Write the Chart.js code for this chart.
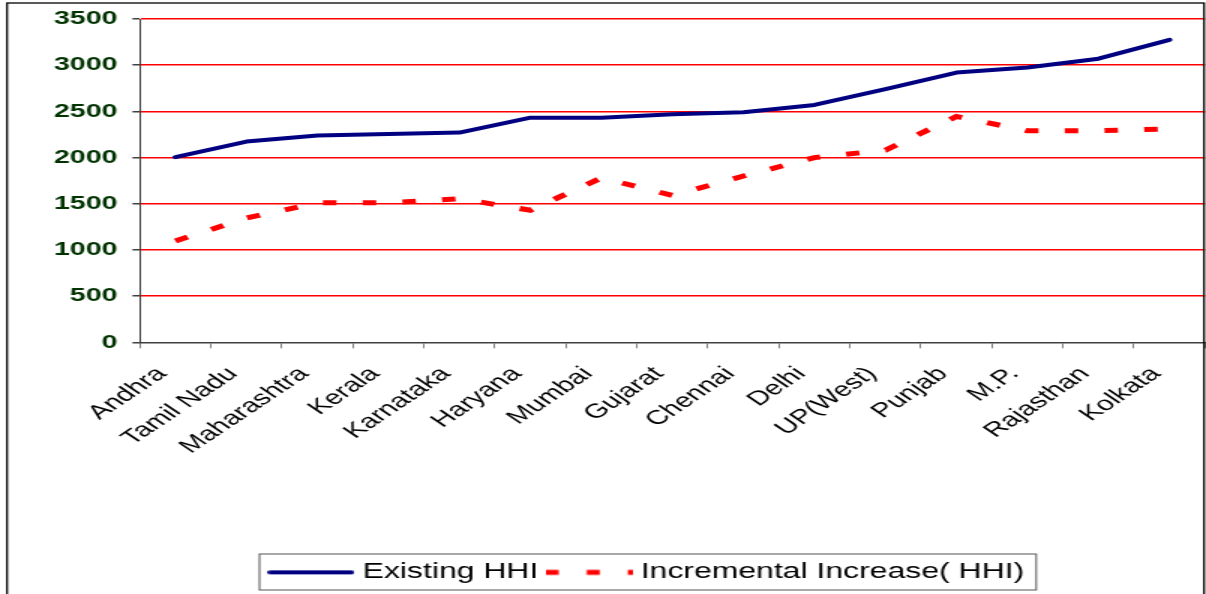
<!DOCTYPE html>
<html lang="en">
<head>
<meta charset="UTF-8">
<title>Existing HHI vs Incremental Increase</title>
<script src="https://cdn.jsdelivr.net/npm/chart.js"></script>
<style>
    html, body { margin: 0; padding: 0; background: #fff; overflow: hidden; }
</style>
</head>
<body>
<!-- the original picture is stretched sideways: draw narrow, widen with inline css -->
<canvas id="hhiChart" width="804" height="594" style="width:1206px;height:594px;display:block"></canvas>

<script>
    const regions = ['Andhra', 'Tamil Nadu', 'Maharashtra', 'Kerala', 'Karnataka', 'Haryana', 'Mumbai',
        'Gujarat', 'Chennai', 'Delhi', 'UP(West)', 'Punjab', 'M.P.', 'Rajasthan', 'Kolkata'];
    const existingHHI = [2005, 2173, 2238, 2256, 2270, 2432, 2432, 2470, 2490, 2570, 2740, 2920, 2975, 3070, 3275];
    const incrementalHHI = [1097, 1345, 1510, 1510, 1555, 1430, 1780, 1590, 1800, 2000, 2080, 2445, 2290, 2290, 2310];

    Chart.defaults.font.family = "'Liberation Sans', Arial, sans-serif";

    // legend symbols: chart.js drops the dash for point-style legends, so draw them by hand
    function legendSymbol(color, width, dash, cap) {
        const c = document.createElement('canvas');
        c.width = 58;
        c.height = 10;
        const g = c.getContext('2d');
        g.strokeStyle = color;
        g.lineWidth = width;
        g.lineCap = cap;
        g.setLineDash(dash);
        g.beginPath();
        g.moveTo(cap === 'round' ? 2 : 0, 5);
        g.lineTo(cap === 'round' ? 56 : 58, 5);
        g.stroke();
        return c;
    }

    // outer frame and the box round the legend
    const frame = {
        id: 'frame',
        afterLayout(chart) {
            // legend sits a bit right of centre in the original
            chart.legend.left += 31.5;
            chart.legend.right += 31.5;
        },
        afterDraw(chart) {
            const ctx = chart.ctx;
            const lg = chart.legend;
            const boxes = lg.legendHitBoxes;
            const first = boxes[0];
            const last = boxes[boxes.length - 1];
            const left = first.left - 10.5;
            const right = last.left + last.width + 8;
            ctx.save();
            ctx.strokeStyle = '#000';
            ctx.lineWidth = 1.3;
            ctx.strokeRect(4.7, 3, 798, 620);
            ctx.strokeStyle = '#555';
            ctx.lineWidth = 1;
            ctx.strokeRect(left, lg.bottom - 39, right - left, 36);
            ctx.restore();
        }
    };

    const config = {
        type: 'line',
        data: {
            labels: regions,
            datasets: [
                {
                    label: 'Existing HHI',
                    data: existingHHI,
                    borderColor: '#000080',
                    backgroundColor: '#000080',
                    borderWidth: 4,
                    borderCapStyle: 'round',
                    borderJoinStyle: 'round',
                    pointRadius: 0,
                    pointStyle: legendSymbol('#000080', 4, [], 'round'),
                    tension: 0,
                    fill: false
                },
                {
                    label: 'Incremental Increase( HHI)',
                    data: incrementalHHI,
                    borderColor: '#ff0000',
                    backgroundColor: '#ff0000',
                    borderWidth: 5,
                    borderDash: [9, 17.5],
                    pointRadius: 0,
                    pointStyle: legendSymbol('#ff0000', 5, [8.7, 18.7], 'butt'),
                    tension: 0,
                    fill: false
                }
            ]
        },
        options: {
            responsive: false,
            animation: false,
            layout: { padding: { top: 19, right: 0.7, bottom: 1, left: 0 } },
            scales: {
                x: {
                    offset: true,
                    grid: { offset: true, drawOnChartArea: false, tickLength: 6, tickColor: '#808080' },
                    border: { color: '#404040', width: 1.5 },
                    ticks: {
                        color: '#000',
                        font: { size: 20 },
                        minRotation: 45,
                        maxRotation: 45,
                        autoSkip: false,
                        padding: 14,
                        labelOffset: -9
                    },
                    afterFit(scale) {
                        scale.height = 209.4;
                        scale.paddingLeft = 0;
                        scale.paddingRight = 0;
                    }
                },
                y: {
                    min: 0,
                    max: 3500,
                    ticks: {
                        stepSize: 500,
                        color: '#003300',
                        font: { size: 19, weight: 'bold' },
                        padding: 10,
                        callback: v => String(v)
                    },
                    grid: {
                        color: c => (c.tick && c.tick.value === 0) ? 'rgba(0,0,0,0)' : '#ff0000',
                        lineWidth: 1.5,
                        tickColor: '#404040',
                        tickLength: 5
                    },
                    border: { color: '#404040', width: 1 },
                    afterFit(scale) {
                        scale.width = 93.3;
                        scale.paddingTop = 0;
                        scale.paddingBottom = 0;
                    }
                }
            },
            plugins: {
                legend: {
                    position: 'bottom',
                    labels: {
                        usePointStyle: true,
                        pointStyleWidth: 47.6,
                        padding: 10,
                        color: '#000',
                        font: { size: 21.3 }
                    }
                },
                tooltip: { enabled: false }
            }
        },
        plugins: [frame]
    };

    new Chart(document.getElementById('hhiChart'), config);
</script>
</body>
</html>
